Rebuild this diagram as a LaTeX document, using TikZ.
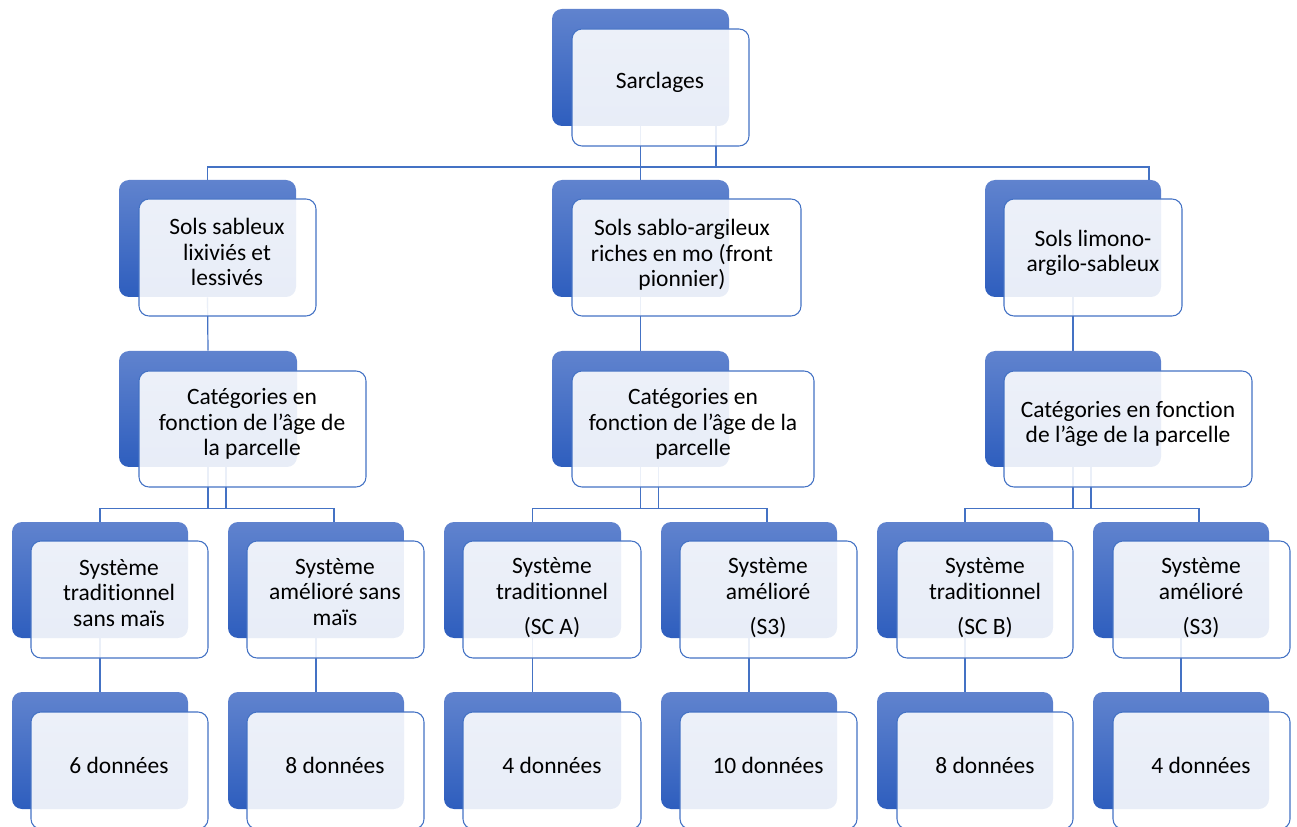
\documentclass[tikz,border=0pt]{standalone}
\usepackage{fontspec}
\setmainfont{Carlito}[RawFeature={-liga,-clig,-calt,-dlig}]
\usetikzlibrary{fit,backgrounds}

\definecolor{lineBlue}{RGB}{68,114,196}
\definecolor{blueTop}{RGB}{96,131,206}
\definecolor{blueBot}{RGB}{46,94,190}

\tikzset{
  back/.style={rounded corners=7.5pt, inner sep=0pt, top color=blueTop, bottom color=blueBot},
  front/.style={rounded corners=7.5pt, inner sep=0pt, draw=lineBlue, line width=0.8pt,
    fill=white, fill opacity=0.89},
  txt/.style={align=center, inner sep=0pt, font=\fontsize{17.6}{19.2}\selectfont},
  conn/.style={draw=lineBlue, line width=0.9pt},
}

\begin{document}
\begin{tikzpicture}[x=0.75pt, y=-0.75pt]
    \useasboundingbox (0,0) rectangle (1297,827);
    \clip (0,0) rectangle (1297,827);

    % root
    \node[back, fit={(552,9) (729,126)}] (sarB) {};
    \node[front, fit={(572,29) (749,146)}] (sarF) {};
    \node[txt] at (660,82) {Sarclages};

    % sols
    \node[back, fit={(119,180) (296,297)}] (lftB) {};
    \node[front, fit={(139,199) (316,316)}] (lftF) {};
    \node[txt] at (227,252) {Sols sableux\\lixiviés et\\lessivés};
    \node[back, fit={(552,180) (729,297)}] (midB) {};
    \node[front, fit={(572,199) (801,316)}] (midF) {};
    \node[txt] at (682,255) {Sols sablo-argileux\\riches en mo (front\\pionnier)};
    \node[back, fit={(985,180) (1161,297)}] (rgtB) {};
    \node[front, fit={(1004,199) (1182,316)}] (rgtF) {};
    \node[txt] at (1093,253) {Sols limono-\\argilo-sableux};

    % categories
    \node[back, fit={(119,351) (297,467)}] (c1B) {};
    \node[front, fit={(139,371) (366,487)}] (c1F) {};
    \node[txt] at (252,424) {Catégories en\\fonction de l’âge de\\la parcelle};
    \node[back, fit={(552,351) (729,467)}] (c2B) {};
    \node[front, fit={(572,371) (814,487)}] (c2F) {};
    \node[txt] at (693,424) {Catégories en\\fonction de l’âge de la\\parcelle};
    \node[back, fit={(985,351) (1161,467)}] (c3B) {};
    \node[front, fit={(1004,371) (1252,487)}] (c3F) {};
    \node[txt] at (1128,424) {Catégories en fonction\\de l’âge de la parcelle};

    % systemes
    \node[back, fit={(12,522) (188,638)}] (s1B) {};
    \node[front, fit={(31,541) (208,658)}] (s1F) {};
    \node[txt] at (119,593) {Système\\traditionnel\\sans maïs};
    \node[back, fit={(228,522) (404,638)}] (s2B) {};
    \node[front, fit={(247,541) (424,658)}] (s2F) {};
    \node[txt] at (335,592) {Système\\amélioré sans\\maïs};
    \node[back, fit={(444,522) (621,638)}] (s3B) {};
    \node[front, fit={(463,541) (641,658)}] (s3F) {};
    \node[txt] at (552,598) {Système\\traditionnel\\[7.5pt](SC A)};
    \node[back, fit={(661,522) (837,638)}] (s4B) {};
    \node[front, fit={(680,541) (857,658)}] (s4F) {};
    \node[txt] at (768,598) {Système\\amélioré\\[7.5pt](S3)};
    \node[back, fit={(877,522) (1053,638)}] (s5B) {};
    \node[front, fit={(897,541) (1073,658)}] (s5F) {};
    \node[txt] at (985,598) {Système\\traditionnel\\[7.5pt](SC B)};
    \node[back, fit={(1093,522) (1269,638)}] (s6B) {};
    \node[front, fit={(1113,541) (1290,658)}] (s6F) {};
    \node[txt] at (1201,598) {Système\\amélioré\\[7.5pt](S3)};

    % donnees
    \node[back, fit={(12,692) (188,809)}] (d1B) {};
    \node[front, fit={(31,712) (208,829)}] (d1F) {};
    \node[txt] at (119,765) {6 données};
    \node[back, fit={(228,692) (404,809)}] (d2B) {};
    \node[front, fit={(247,712) (424,829)}] (d2F) {};
    \node[txt] at (335,765) {8 données};
    \node[back, fit={(444,692) (621,809)}] (d3B) {};
    \node[front, fit={(463,712) (641,829)}] (d3F) {};
    \node[txt] at (552,765) {4 données};
    \node[back, fit={(661,692) (837,809)}] (d4B) {};
    \node[front, fit={(680,712) (857,829)}] (d4F) {};
    \node[txt] at (768,765) {10 données};
    \node[back, fit={(877,692) (1053,809)}] (d5B) {};
    \node[front, fit={(897,712) (1073,829)}] (d5F) {};
    \node[txt] at (985,765) {8 données};
    \node[back, fit={(1093,692) (1269,809)}] (d6B) {};
    \node[front, fit={(1113,712) (1290,829)}] (d6F) {};
    \node[txt] at (1201,765) {4 données};

    \begin{pgfonlayer}{background}
    % root to sols
    \coordinate (topR) at (1149,167);
    \coordinate (sarJ) at (716,167);
    \draw[conn] (sarB.south) -- (midB.north);
    \draw[conn] (sarJ |- sarB.south) -- (sarJ);
    \draw[conn] (lftB.north) |- (topR) -- (topR |- rgtB.north);
    % sols to categories
    \draw[conn] (lftB.south) -- (c1B.north);
    \draw[conn] (midB.south) -- (c2B.north);
    \draw[conn] (rgtB.south) -- (c3B.north);
    % categories to systemes
    \draw[conn] (c1B.south) -- ++(0,41) coordinate (k1);
    \draw[conn] ([xshift=13.5pt]c1B.south) -- ([xshift=13.5pt]c1B.south |- k1);
    \draw[conn] (s1B.north) |- (k1) -| ([xshift=13.5pt]s2B.north);
    \draw[conn] (c2B.south) -- ++(0,41) coordinate (k2);
    \draw[conn] ([xshift=13.5pt]c2B.south) -- ([xshift=13.5pt]c2B.south |- k2);
    \draw[conn] (s3B.north) |- (k2) -| ([xshift=13.5pt]s4B.north);
    \draw[conn] (c3B.south) -- ++(0,41) coordinate (k3);
    \draw[conn] ([xshift=13.5pt]c3B.south) -- ([xshift=13.5pt]c3B.south |- k3);
    \draw[conn] (s5B.north) |- (k3) -| ([xshift=13.5pt]s6B.north);
    % systemes to donnees
    \draw[conn] (s1B.south) -- (d1B.north);
    \draw[conn] (s2B.south) -- (d2B.north);
    \draw[conn] (s3B.south) -- (d3B.north);
    \draw[conn] (s4B.south) -- (d4B.north);
    \draw[conn] (s5B.south) -- (d5B.north);
    \draw[conn] (s6B.south) -- (d6B.north);
    \end{pgfonlayer}
\end{tikzpicture}
\end{document}
